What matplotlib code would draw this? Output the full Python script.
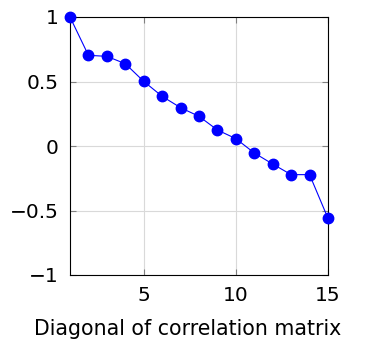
import matplotlib
matplotlib.use("Agg")
import matplotlib.pyplot as plt

x = list(range(1, 16))
y = [1.0, 0.703, 0.695, 0.638, 0.501, 0.385, 0.297, 0.230, 0.124, 0.057,
     -0.054, -0.140, -0.222, -0.222, -0.561]
xticks = [5, 10, 15]
yticks = [-1, -0.5, 0, 0.5, 1]
ytick_labels = ["\u22121", "\u22120.5", "0", "0.5", "1"]

plt.rcParams['font.family'] = ['DejaVu Sans']
fig = plt.figure(figsize=(3.68, 3.42), dpi=100)
ax = fig.add_axes([70/368, 1-275/342, 258/368, 258/342])
ax.plot(x, y, color='blue', lw=0.8, marker='o', markersize=7.5, zorder=3, clip_on=False)
ax.set_xlim(1, 15)
ax.set_ylim(-1, 1)
ax.set_xticks(xticks)
ax.set_yticks(yticks)
ax.set_yticklabels(ytick_labels)
ax.grid(True, color='#d9d9d9', lw=0.8)
ax.set_axisbelow(True)
ax.tick_params(direction='in', length=4, width=0.8, color='#808080', labelsize=14.5,
               top=True, right=True)
ax.tick_params(axis='x', pad=8)
ax.tick_params(axis='y', pad=8)
for s in ax.spines.values():
    s.set_linewidth(0.8)
ax.set_xlabel("Diagonal of correlation matrix", fontsize=14.8, labelpad=9)
ax.xaxis.set_label_coords(0.455, -0.17)
fig.savefig("out.png", dpi=100)
